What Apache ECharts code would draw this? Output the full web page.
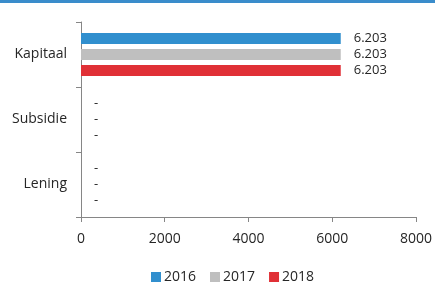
<!DOCTYPE html>
<html><head><meta charset="utf-8">
<script src="https://cdn.jsdelivr.net/npm/echarts@6/dist/echarts.min.js"></script>
<style>html,body{margin:0;padding:0;background:#fff}#c{width:435px;height:282px}</style>
</head><body><div id="c"></div>
<script>
var categories = ['Kapitaal', 'Subsidie', 'Lening'];
var years = ['2016', '2017', '2018'];
var values2016 = [6203, 0, 0];
var values2017 = [6203, 0, 0];
var values2018 = [6203, 0, 0];
var xTicks = [0, 2000, 4000, 6000, 8000];
var colors = ['#318FCE', '#BFBFBF', '#E03036'];
var font = '"Open Sans", sans-serif';

function fmt(p) {
  if (!p.value) return '-';
  return String(p.value).replace(/\B(?=(\d{3})+(?!\d))/g, '.');
}
function mk(name, data, color) {
  return {
    name: name, type: 'bar', data: data,
    itemStyle: { color: color },
    barWidth: 11, barGap: '45%',
    label: { show: true, position: 'right', distance: 13, formatter: fmt,
      color: '#262626', fontSize: 13, fontFamily: font }
  };
}
var chart = echarts.init(document.getElementById('c'), null, { renderer: 'canvas' });
chart.setOption({
  animation: false,
  graphic: [{ type: 'rect', shape: { x: 0, y: 0, width: 435, height: 3 }, style: { fill: '#3A8CCB' } }],
  grid: { left: 81, right: 17, top: 22, bottom: 65, containLabel: false },
  legend: {
    data: years, top: 265, left: 146, itemWidth: 10, itemHeight: 10, itemGap: 14,
    icon: 'rect', textStyle: { color: '#262626', fontSize: 14, fontFamily: font, padding: [0,0,0,-2] }
  },
  xAxis: {
    type: 'value', min: xTicks[0], max: xTicks[xTicks.length - 1], interval: 2000,
    axisLine: { show: true, lineStyle: { color: '#868686' } },
    axisTick: { show: true, length: 5, lineStyle: { color: '#868686' } },
    splitLine: { show: false },
    axisLabel: { color: '#262626', fontSize: 14, fontFamily: font, margin: 15,
      formatter: function (v) { return String(v); } }
  },
  yAxis: {
    type: 'category', data: categories, inverse: true,
    axisLine: { show: true, lineStyle: { color: '#868686' } },
    axisTick: { show: true, length: 5, lineStyle: { color: '#868686' } },
    axisLabel: { color: '#262626', fontSize: 14, fontFamily: font, margin: 14 }
  },
  series: [mk(years[0], values2016, colors[0]), mk(years[1], values2017, colors[1]), mk(years[2], values2018, colors[2])]
});
</script></body></html>
